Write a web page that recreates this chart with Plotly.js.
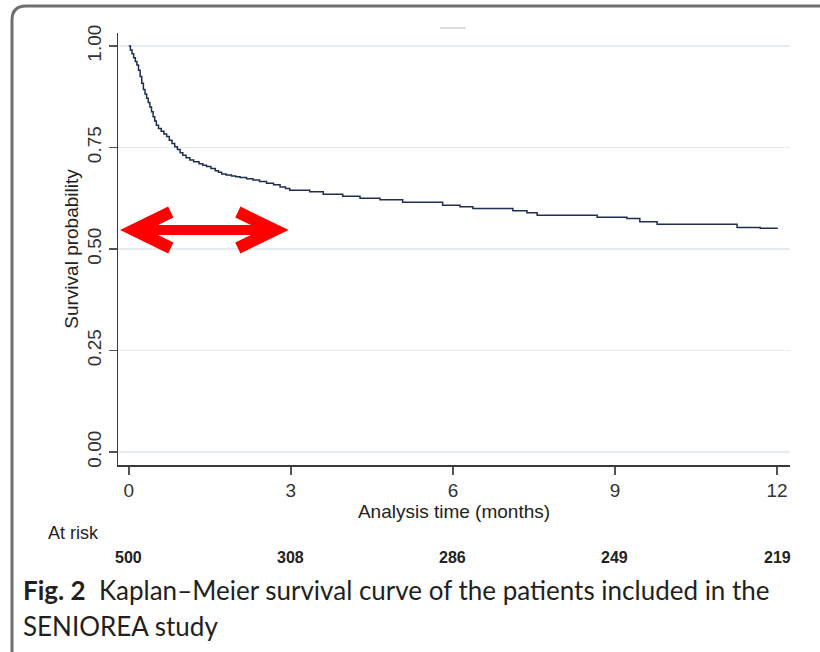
<!DOCTYPE html>
<html>
<head>
<meta charset="utf-8">
<script src="https://cdn.plot.ly/plotly-3.0.1.min.js"></script>
<style>html,body{margin:0;padding:0;background:#fff;}#chart{width:820px;height:652px;}</style>
</head>
<body>
<div id="chart"></div>
<script>
// Kaplan–Meier survival estimate (months, probability)
const timeMonths = [0, 0.03, 0.06, 0.09, 0.12, 0.15, 0.18, 0.21, 0.24, 0.27, 0.30, 0.33, 0.36, 0.39, 0.42, 0.45, 0.48, 0.51, 0.55, 0.6, 0.65, 0.7, 0.75, 0.8, 0.85, 0.9, 0.95, 1.0, 1.06, 1.13, 1.2, 1.3, 1.37, 1.44, 1.52, 1.6, 1.66, 1.72, 1.8, 1.9, 1.98, 2.06, 2.18, 2.3, 2.42, 2.55, 2.68, 2.8, 2.9, 2.98, 3.35, 3.6, 3.96, 4.28, 4.65, 5.07, 5.81, 6.13, 6.37, 7.11, 7.37, 7.56, 8.67, 9.22, 9.46, 9.78, 11.26, 11.69, 12.0];
const survival = [1.0, 0.99, 0.981, 0.971, 0.962, 0.953, 0.94, 0.925, 0.908, 0.893, 0.882, 0.871, 0.861, 0.85, 0.838, 0.826, 0.815, 0.805, 0.797, 0.79, 0.783, 0.777, 0.768, 0.76, 0.752, 0.745, 0.737, 0.731, 0.725, 0.719, 0.715, 0.71, 0.706, 0.703, 0.698, 0.693, 0.689, 0.685, 0.682, 0.68, 0.678, 0.676, 0.673, 0.67, 0.666, 0.662, 0.658, 0.653, 0.649, 0.645, 0.641, 0.635, 0.630, 0.625, 0.621, 0.615, 0.608, 0.604, 0.600, 0.594, 0.589, 0.583, 0.578, 0.575, 0.567, 0.561, 0.553, 0.551, 0.549];

// Number at risk table
const riskTimes = [0, 3, 6, 9, 12];
const atRisk = [500, 308, 286, 249, 219];

// Axis ticks
const xTicks = [0, 3, 6, 9, 12];
const yTicks = [0, 0.25, 0.5, 0.75, 1.0];
const yTickText = ["0.00", "0.25", "0.50", "0.75", "1.00"];

const axisFont = "Liberation Sans Narrow, Arial Narrow, Liberation Sans, Arial, sans-serif";
const captionFont = "Lato, Open Sans, sans-serif";

const trace = {
  x: timeMonths, y: survival, type: 'scatter', mode: 'lines',
  line: {shape: 'hv', color: '#1e2d52', width: 1.5},
  hoverinfo: 'x+y', showlegend: false
};

// Paper coordinates helpers (plot area: x 118..790, y 33..465 px)
const W = 820, H = 652, ML = 118, MR = 30, MT = 33, MB = 187;
const PW = W - ML - MR, PH = H - MT - MB;
const px = v => (v - ML) / PW;
const py = v => (H - MB - v) / PH;

const annotations = atRisk.map((n, i) => ({
  x: riskTimes[i], xref: 'x', y: py(557), yref: 'paper',
  text: '<b>' + n + '</b>', showarrow: false, xanchor: 'center', yanchor: 'middle',
  font: {family: axisFont, size: 16, color: '#222'}
}));
annotations.push({
  x: px(46), xref: 'paper', y: py(533), yref: 'paper', text: 'At risk', showarrow: false,
  xanchor: 'left', yanchor: 'middle', font: {family: axisFont, size: 18, color: '#222'}
});
annotations.push({
  x: px(21), xref: 'paper', y: py(590), yref: 'paper',
  text: '<b>Fig. 2</b>  Kaplan–Meier survival curve of the patients included in the',
  showarrow: false, xanchor: 'left', yanchor: 'middle',
  font: {family: captionFont, size: 26, color: '#231f20'}
});
annotations.push({
  x: px(21), xref: 'paper', y: py(626), yref: 'paper', text: 'SENIOREA study',
  showarrow: false, xanchor: 'left', yanchor: 'middle',
  font: {family: captionFont, size: 26, color: '#231f20'}
});

// Frame with rounded top-left corner (paper coords)
const r = 14;
const fx0 = px(12), fy0 = py(6), fxr = px(840), fyb = py(680);
const framePath = `M ${fx0},${fyb} L ${fx0},${py(6 + r)} Q ${fx0},${fy0} ${px(12 + r)},${fy0} L ${fxr},${fy0}`;

const tx = v => (v - 129) / 54; // px -> months (arrow helper)
const ty = v => (452 - v) / 406; // px -> survival
const shapes = [
  {type: 'path', xref: 'paper', yref: 'paper', path: framePath, line: {color: '#6e6e6e', width: 3}, layer: 'above'},
  {type: 'line', xref: 'paper', yref: 'paper', x0: px(440), x1: px(466), y0: py(28), y1: py(28), line: {color: '#dcdcdc', width: 2}},
  // red double arrow
  {type: 'line', xref: 'x', yref: 'y', x0: tx(132), x1: tx(277), y0: ty(230), y1: ty(230), line: {color: '#ff0000', width: 10}},
  {type: 'path', xref: 'x', yref: 'y', path: `M ${tx(171)},${ty(212)} L ${tx(134)},${ty(230)} L ${tx(171)},${ty(248)}`, line: {color: '#ff0000', width: 12}},
  {type: 'path', xref: 'x', yref: 'y', path: `M ${tx(238)},${ty(212)} L ${tx(275)},${ty(230)} L ${tx(238)},${ty(248)}`, line: {color: '#ff0000', width: 12}}
];

const layout = {
  width: W, height: H,
  margin: {l: ML, r: MR, t: MT, b: MB},
  paper_bgcolor: '#ffffff', plot_bgcolor: '#ffffff',
  showlegend: false,
  xaxis: {
    range: [-0.2, 12.24], tickvals: xTicks, ticktext: xTicks.map(String),
    ticks: 'outside', ticklen: 8, tickwidth: 1.5, tickcolor: '#555',
    showline: true, linecolor: '#3a3a3a', linewidth: 1.5,
    showgrid: false, zeroline: false,
    tickfont: {family: axisFont, size: 19, color: '#333'},
    title: {text: 'Analysis time (months)', font: {family: axisFont, size: 19, color: '#222'}, standoff: 2}
  },
  yaxis: {
    range: [-0.032, 1.032], tickvals: yTicks, ticktext: yTickText, tickangle: -90,
    ticks: 'outside', ticklen: 8, tickwidth: 1.5, tickcolor: '#555',
    showline: true, linecolor: '#3a3a3a', linewidth: 1.5,
    showgrid: true, gridcolor: '#e4ecef', gridwidth: 1.5, zeroline: false,
    tickfont: {family: axisFont, size: 19, color: '#333'},
    title: {text: 'Survival probability', font: {family: axisFont, size: 19, color: '#222'}, standoff: 0}
  },
  annotations: annotations,
  shapes: shapes
};

Plotly.newPlot('chart', [trace], layout, {displayModeBar: false, staticPlot: true});
</script>
</body>
</html>
